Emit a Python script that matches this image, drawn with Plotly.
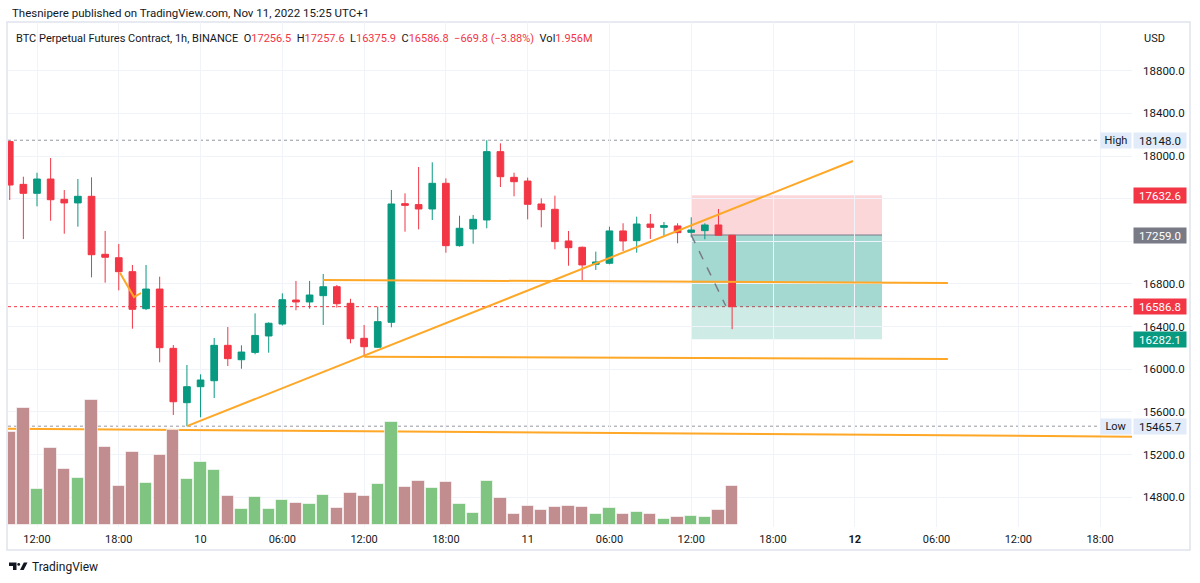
import plotly.graph_objects as go
import pandas as pd

# ---------------- data ----------------
start_time = "2022-11-09 10:00"
opens = [18135, 17734, 17650, 17784, 17594, 17560, 17622, 17078, 17046, 16915,
         16568, 16752, 16196, 15686, 15836, 15892, 16224, 16089, 16158, 16312,
         16424, 16649, 16631, 16690, 16774, 16618, 16290, 16206, 16440, 17553,
         17544, 17503, 17744, 17159, 17315, 17400, 18041, 17800, 17765, 17550,
         17500, 17203, 17144, 16984, 16994, 17297, 17206, 17362, 17331, 17344,
         17284, 17300, 17353, 17256.5]
highs = [18145, 17806, 17843, 17981, 17681, 17784, 17800, 17297, 17175, 16978,
         16978, 16868, 16227, 16040, 15952, 16293, 16396, 16224, 16524, 16440,
         16712, 16828, 16828, 16893, 16790, 16661, 16415, 16587, 17681, 17650,
         17897, 17941, 17790, 17440, 17447, 18148, 18119, 17843, 17797, 17603,
         17628, 17297, 17150, 17103, 17337, 17369, 17431, 17456, 17381, 17369,
         17425, 17369, 17503, 17257.6]
lows = [17587, 17221, 17528, 17393, 17271, 17337, 16862, 16812, 16740, 16380,
        16555, 16065, 15571, 15465.7, 15549, 15730, 16030, 16005, 16140, 16155,
        16410, 16553, 16568, 16415, 16578, 16243, 16118, 16200, 16393, 17290,
        17312, 17400, 17093, 17150, 17177, 17322, 17709, 17622, 17406, 17331,
        17125, 16971, 16830, 16931, 16984, 17109, 17093, 17222, 17250, 17181,
        17237, 17219, 17255, 16375.9]
closes = [17728, 17650, 17784, 17590, 17560, 17622, 17074, 17050, 16915, 16562,
          16752, 16202, 15695, 15836, 15899, 16224, 16099, 16161, 16317, 16431,
          16652, 16631, 16696, 16774, 16615, 16286, 16211, 16446, 17550, 17537,
          17503, 17744, 17159, 17322, 17406, 18041, 17806, 17759, 17547, 17497,
          17197, 17140, 16978, 17006, 17297, 17203, 17362, 17331, 17347, 17281,
          17306, 17353, 17256.5, 16586.8]
volumes_m = [4.68, 5.85, 1.81, 3.85, 2.79, 2.37, 6.27, 3.93, 1.96, 3.66,
             2.09, 3.51, 4.76, 2.31, 3.14, 2.74, 1.45, 0.82, 1.40, 0.82,
             1.25, 1.12, 1.04, 1.49, 0.85, 1.59, 1.45, 2.04, 5.17, 1.91,
             2.19, 1.86, 2.14, 1.04, 0.62, 2.19, 1.35, 0.54, 0.95, 0.77,
             0.90, 0.95, 0.90, 0.54, 0.87, 0.57, 0.65, 0.54, 0.30, 0.40,
             0.45, 0.40, 0.77, 1.956]

tick_times = ["2022-11-09 12:00", "2022-11-09 18:00", "2022-11-10 00:00", "2022-11-10 06:00",
              "2022-11-10 12:00", "2022-11-10 18:00", "2022-11-11 00:00", "2022-11-11 06:00",
              "2022-11-11 12:00", "2022-11-11 18:00", "2022-11-12 00:00", "2022-11-12 06:00",
              "2022-11-12 12:00", "2022-11-12 18:00"]
tick_labels = ["12:00", "18:00", "10", "06:00", "12:00", "18:00", "11", "06:00",
               "12:00", "18:00", "<b>12</b>", "06:00", "12:00", "18:00"]
price_ticks = [14800, 15200, 15600, 16000, 16400, 16800, 17200, 17600, 18000, 18400, 18800]
# labels hidden under the coloured price boxes in the reference
price_tick_labels = ["14800.0", "15200.0", "15600.0", "16000.0", "16400.0", "16800.0",
                     "", "", "18000.0", "18400.0", "18800.0"]

# drawings (time, price)
trend_line = (["2022-11-09 23:00", "2022-11-11 23:52"], [15465.7, 17953])
level_upper = (["2022-11-10 09:00", "2022-11-12 06:50"], [16837, 16809])
level_lower = (["2022-11-10 12:00", "2022-11-12 06:50"], [16117, 16096])
level_base = (["2022-11-09 06:00", "2022-11-12 23:00"], [15445, 15365])
small_mark = (["2022-11-09 18:05", "2022-11-09 19:07", "2022-11-09 19:38"], [16905, 16677, 16715])

pos_start, pos_end = "2022-11-11 12:00", "2022-11-12 02:00"
stop_price, entry_price, target_price = 17632.6, 17259.0, 16282.1
last_price = 16586.8
high_price, low_price = 18148.0, 15465.7
dash_path = (["2022-11-11 12:00", "2022-11-11 14:32"], [17259.0, 16595])

# ---------------- figure ----------------
times = pd.date_range(start_time, periods=len(opens), freq="h")
UP, DOWN = "#089981", "#f23645"
ORANGE = "#ffa726"
TXT = "#131722"

L, R, T, B = 8, 68, 22, 56
W, H = 1200, 583
PW, PH = W - L - R, H - T - B


def px(x):
    return (x - L) / PW


def py(y):
    return (H - B - y) / PH


fig = go.Figure()

vol_colors = ["#80c482" if c >= o else "#c18d8f" for o, c in zip(opens, closes)]
fig.add_trace(go.Bar(x=times, y=volumes_m, yaxis="y2", width=3.25e6,
                     marker=dict(color=vol_colors, line=dict(color="rgba(255,255,255,0.6)", width=1)),
                     hoverinfo="skip", showlegend=False))

for xs, ys in [trend_line, level_upper, level_lower, level_base, small_mark]:
    fig.add_trace(go.Scatter(x=xs, y=ys, mode="lines", line=dict(color=ORANGE, width=2),
                             hoverinfo="skip", showlegend=False))

fig.add_trace(go.Scatter(x=dash_path[0], y=dash_path[1], mode="lines",
                         line=dict(color="#787b86", width=1.5, dash="dash"),
                         hoverinfo="skip", showlegend=False))

fig.add_trace(go.Candlestick(x=times, open=opens, high=highs, low=lows, close=closes,
                             increasing=dict(line=dict(color=UP, width=1), fillcolor=UP),
                             decreasing=dict(line=dict(color=DOWN, width=1), fillcolor=DOWN),
                             whiskerwidth=0, hoverinfo="skip", showlegend=False))

shapes = []
# position zones
shapes.append(dict(type="rect", xref="x", yref="y", x0=pos_start, x1=pos_end, y0=entry_price, y1=stop_price,
                   fillcolor="rgba(242,54,69,0.2)", line=dict(width=0), layer="below"))
shapes.append(dict(type="rect", xref="x", yref="y", x0=pos_start, x1=pos_end, y0=last_price, y1=entry_price,
                   fillcolor="rgba(8,153,129,0.37)", line=dict(width=0), layer="below"))
shapes.append(dict(type="rect", xref="x", yref="y", x0=pos_start, x1=pos_end, y0=target_price, y1=last_price,
                   fillcolor="rgba(8,153,129,0.2)", line=dict(width=0), layer="below"))
shapes.append(dict(type="line", xref="x", yref="y", x0=pos_start, x1=pos_end, y0=entry_price, y1=entry_price,
                   line=dict(color="#787b86", width=1), layer="below"))
# dotted lines
for yv, col, x1 in [(high_price, "#9598a1", px(1100)), (low_price, "#9598a1", px(1100)), (last_price, DOWN, 1)]:
    shapes.append(dict(type="line", xref="paper", yref="y", x0=0, x1=x1, y0=yv, y1=yv,
                       line=dict(color=col, width=1, dash="dot"), layer="below"))
# frame
shapes.append(dict(type="rect", xref="paper", yref="paper", x0=px(7), x1=px(1190), y0=py(550), y1=py(22),
                   line=dict(color="#e0e3eb", width=1.5), layer="below"))
# TradingView logo
shapes.append(dict(type="path", xref="paper", yref="paper", fillcolor=TXT, line=dict(width=0),
                   path=f"M {px(9)},{py(562.5)} L {px(16.5)},{py(562.5)} L {px(16.5)},{py(570)} L {px(13)},{py(570)} "
                        f"L {px(13)},{py(566)} L {px(9)},{py(566)} Z"))
shapes.append(dict(type="circle", xref="paper", yref="paper", fillcolor=TXT, line=dict(width=0),
                   x0=px(17.3), x1=px(20.1), y0=py(565.8), y1=py(563)))
shapes.append(dict(type="path", xref="paper", yref="paper", fillcolor=TXT, line=dict(width=0),
                   path=f"M {px(20)},{py(570)} L {px(23.8)},{py(562.5)} L {px(27.5)},{py(562.5)} L {px(23.7)},{py(570)} Z"))

ann = []
ann.append(dict(xref="paper", yref="paper", x=px(10), y=py(13), xanchor="left", yanchor="middle",
                text="Thesnipere published on TradingView.com, Nov 11, 2022 15:25 UTC+1",
                showarrow=False, font=dict(size=11.5, color=TXT)))
red = lambda s: f"<span style='color:{DOWN}'>{s}</span>"
header = ("BTC Perpetual Futures Contract, 1h, BINANCE  "
          f"O{red('17256.5')}  H{red('17257.6')}  L{red('16375.9')}  C{red('16586.8')}  "
          f"{red('−669.8 (−3.88%)')}  Vol{red('1.956M')}")
ann.append(dict(xref="paper", yref="paper", x=px(14), y=py(38), xanchor="left", yanchor="middle",
                text=header, showarrow=False, font=dict(size=11, color=TXT)))
ann.append(dict(xref="paper", yref="paper", x=px(1142), y=py(38), xanchor="left", yanchor="middle",
                text="USD", showarrow=False, font=dict(size=11, color=TXT)))
ann.append(dict(xref="paper", yref="paper", x=px(30), y=py(566.5), xanchor="left", yanchor="middle",
                text="TradingView", showarrow=False, font=dict(size=12, color=TXT)))


def price_box(val, bg, fg="white", text=None):
    return dict(xref="paper", yref="y", x=px(1133), y=val, xanchor="left", yanchor="middle",
                text=text or f"{val:.1f}", showarrow=False, bgcolor=bg, width=52, height=15,
                borderpad=0, font=dict(size=11.5, color=fg))


ann.append(price_box(high_price, "#e1ebf9", TXT))
ann.append(price_box(low_price, "#e1ebf9", TXT))
ann.append(price_box(stop_price, DOWN))
ann.append(price_box(entry_price, "#787b86"))
ann.append(price_box(last_price, DOWN))
ann.append(price_box(target_price, UP))
for val, label in [(high_price, "High"), (low_price, "Low")]:
    ann.append(dict(xref="paper", yref="y", x=px(1100), y=val, xanchor="left", yanchor="middle",
                    text=label, showarrow=False, bgcolor="#e1ebf9", width=30, height=15, borderpad=0,
                    font=dict(size=11, color=TXT)))

fig.update_layout(
    width=W, height=H, margin=dict(l=L, r=R, t=T, b=B),
    paper_bgcolor="white", plot_bgcolor="white",
    font=dict(family="Roboto, Open Sans, sans-serif", size=11, color=TXT),
    showlegend=False, hovermode=False, bargap=0,
    xaxis=dict(type="date", range=["2022-11-09 09:52:20", "2022-11-12 20:20:24"],
               tickvals=tick_times, ticktext=tick_labels, showgrid=True, gridcolor="#f0f3fa",
               gridwidth=1, zeroline=False, showline=False, ticks="", rangeslider=dict(visible=False),
               tickfont=dict(size=11, color=TXT), ticklabelstandoff=4, fixedrange=True),
    yaxis=dict(side="right", range=[14520, 19257], tickvals=price_ticks,
               ticktext=price_tick_labels, showgrid=True, gridcolor="#f0f3fa",
               zeroline=False, showline=False, ticks="", tickfont=dict(size=11.5, color=TXT),
               ticklabelstandoff=10),
    yaxis2=dict(overlaying="y", range=[-0.1003, 25.23], visible=False, showgrid=False),
    shapes=shapes, annotations=ann,
)

fig.write_html("out.html")
